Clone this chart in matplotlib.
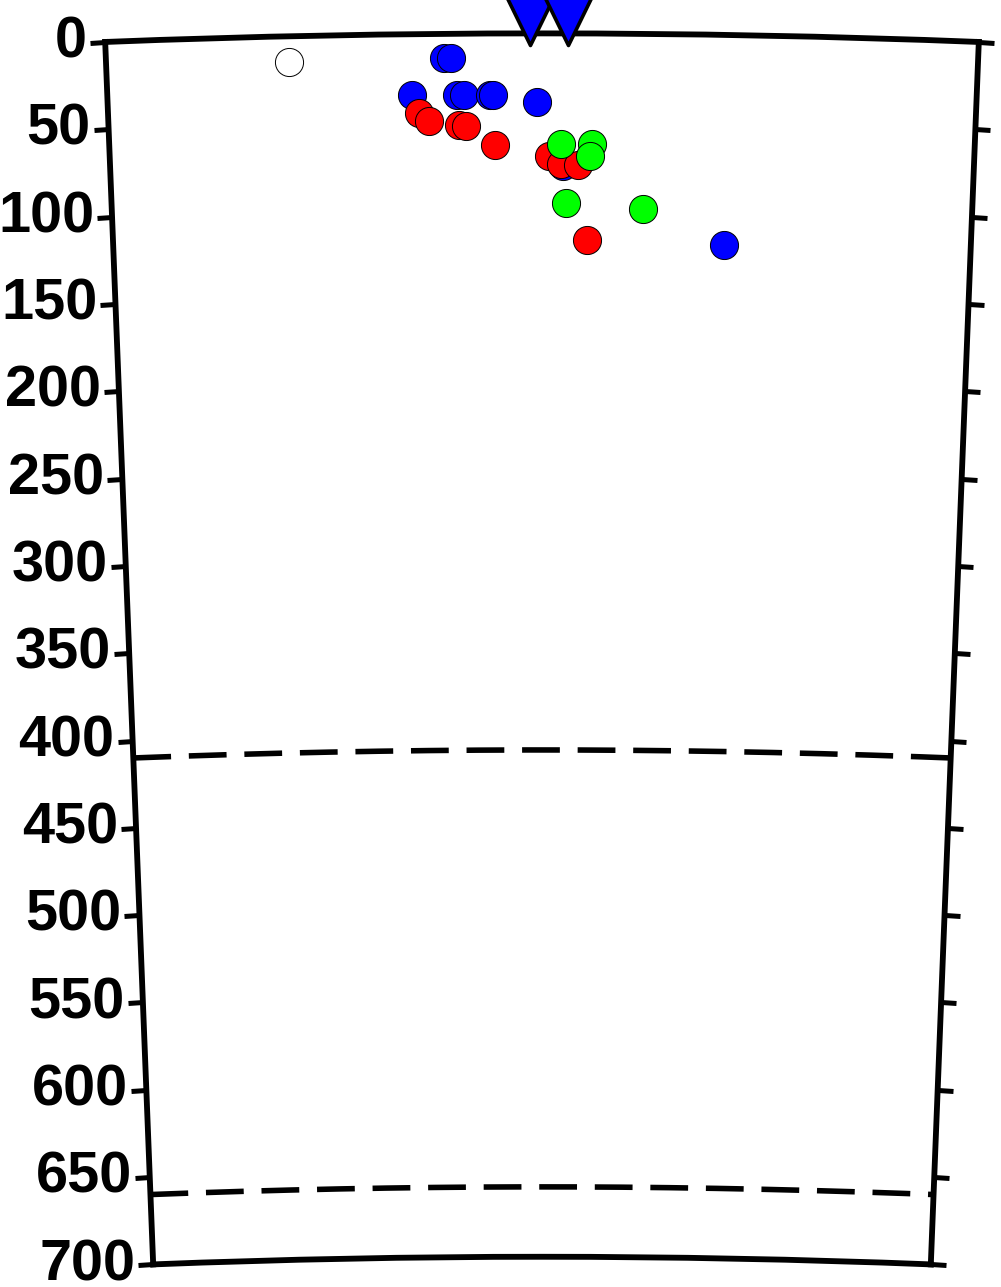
import numpy as np
import matplotlib
matplotlib.use("Agg")
import matplotlib.pyplot as plt
from matplotlib.path import Path

plt.rcParams["font.family"] = ["Liberation Sans", "DejaVu Sans"]
plt.rcParams["font.weight"] = "bold"

EARTH_R = 6371.0
PROFILE_LEN = 500.0   # km along the surface
MAX_DEPTH = 700.0

# events: distance along profile (km), depth (km)
blue_dist = [194, 198, 175, 201, 205, 220, 222, 247, 262, 356]
blue_depth = [14, 14, 35, 35, 35, 35, 35, 39, 76, 120]
red_dist = [179, 185, 202, 206, 223, 254, 261, 271, 276]
red_depth = [45, 50, 52, 53, 64, 70, 75, 75, 118]
green_dist = [261, 279, 278, 264, 309]
green_depth = [63, 63, 70, 97, 100]
open_dist = [105]
open_depth = [15]

# stations at the surface
station_dist = [243, 265]

# discontinuities
disc_depths = [410, 660]

depth_ticks = list(range(0, 701, 50))
depth_labels = [str(d) for d in depth_ticks]


def to_theta(d):
    return np.asarray(d, dtype=float) / EARTH_R


def to_r(z):
    return EARTH_R - np.asarray(z, dtype=float)


W, H = 1001, 1287
fig = plt.figure(figsize=(W / 100, H / 100), dpi=100)

# axes box is square around the wedge (pixel values from the reference layout)
side = 1231.0
cx, bottom = 542.0, 22.6
ax = fig.add_axes([(cx - side / 2) / W, bottom / H, side / W, side / H],
                  projection="polar")

half = np.rad2deg(PROFILE_LEN / EARTH_R / 2)
ax.set_theta_zero_location("N", offset=half)
ax.set_theta_direction(-1)
ax.set_thetamin(0)
ax.set_thetamax(np.rad2deg(PROFILE_LEN / EARTH_R))
ax.set_rorigin(0)
ax.set_rlim(EARTH_R - MAX_DEPTH, EARTH_R)

ax.grid(False)
ax.set_xticks([])
ax.set_yticks(to_r(depth_ticks))
ax.set_yticklabels(depth_labels)
ax.tick_params(axis="y", direction="out", length=11, width=3.6, pad=2,
               labelsize=41.5, left=True, right=True,
               labelleft=True, labelright=False)
for sp in ax.spines.values():
    sp.set_linewidth(4.2)

# dashed discontinuity lines
th = np.linspace(0, PROFILE_LEN / EARTH_R, 300)
for z in disc_depths:
    ax.plot(th, np.full_like(th, to_r(z)), color="black", lw=4,
            dashes=(6.8, 3.2), dash_capstyle="butt")

# earthquakes
kw = dict(s=410, edgecolors="black", linewidths=0.7, zorder=3)
ax.scatter(to_theta(open_dist), to_r(open_depth), c="white", **kw)
ax.scatter(to_theta(blue_dist), to_r(blue_depth), c="#0000ff", **kw)
ax.scatter(to_theta(red_dist), to_r(red_depth), c="#ff0000", **kw)
ax.scatter(to_theta(green_dist), to_r(green_depth), c="#00ff00", **kw)

# inverted station triangles, tip a little below the surface line
tri = Path([(0, -0.27), (-0.62, 1), (0.62, 1), (0, -0.27)],
           [Path.MOVETO, Path.LINETO, Path.LINETO, Path.CLOSEPOLY])
for sd in station_dist:
    ax.plot(to_theta([sd]), to_r([0]), marker=tri, ms=64, mfc="#0000ff",
            mec="black", mew=2.6, ls="none", clip_on=False, zorder=5)

fig.savefig("out.png", dpi=100, facecolor="white")
